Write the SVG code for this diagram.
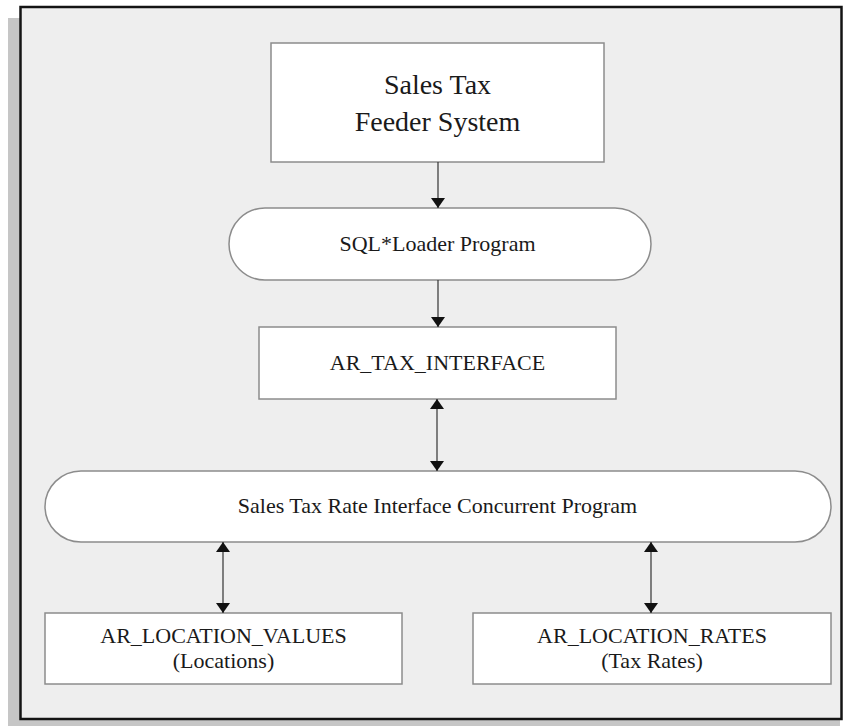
<svg xmlns="http://www.w3.org/2000/svg" width="850" height="726" viewBox="0 0 850 726">
<style>
.box{fill:#ffffff;stroke:#8c8c8c;stroke-width:1.5}
.t{font-family:"Liberation Serif","Times New Roman",serif;fill:#1a1a1a;text-anchor:middle}
.s{font-size:22px}
.c{stroke:#333;stroke-width:1.2;fill:none}
</style>
<defs>
<marker id="ah" viewBox="0 0 10 16" refX="10" refY="8" markerWidth="10" markerHeight="16" markerUnits="userSpaceOnUse" orient="auto-start-reverse">
<path d="M0,1 L10,8 L0,15 Z" fill="#111"/>
</marker>
</defs>
<rect x="8" y="18" width="832" height="708" fill="#c6c6c6"/>
<rect x="20.5" y="7" width="821" height="712" fill="#eeeeee" stroke="#141414" stroke-width="2.5"/>
<g id="feeder">
<rect class="box" x="271" y="43" width="333" height="119"/>
<text class="t" x="437.5" y="94" font-size="28">Sales Tax</text>
<text class="t" x="437.5" y="131" font-size="28">Feeder System</text>
</g>
<g id="sqlloader">
<rect class="box" x="229" y="208" width="422" height="72" rx="36" ry="36"/>
<text class="t s" x="437.5" y="251">SQL*Loader Program</text>
</g>
<g id="artaxinterface">
<rect class="box" x="259" y="327" width="357" height="72"/>
<text class="t s" x="437.5" y="370">AR_TAX_INTERFACE</text>
</g>
<g id="concurrent">
<rect class="box" x="45" y="471" width="786" height="71" rx="36" ry="36"/>
<text class="t s" x="437.5" y="513">Sales Tax Rate Interface Concurrent Program</text>
</g>
<g id="locvalues">
<rect class="box" x="45" y="613" width="357" height="71"/>
<text class="t s" x="223.5" y="643">AR_LOCATION_VALUES</text>
<text class="t s" x="223.5" y="668">(Locations)</text>
</g>
<g id="locrates">
<rect class="box" x="473" y="613" width="358" height="71"/>
<text class="t s" x="652" y="643">AR_LOCATION_RATES</text>
<text class="t s" x="652" y="668">(Tax Rates)</text>
</g>
<g id="connectors">
<line class="c" x1="438" y1="162" x2="438" y2="208" marker-end="url(#ah)"/>
<line class="c" x1="438" y1="280" x2="438" y2="327" marker-end="url(#ah)"/>
<line class="c" x1="437" y1="399" x2="437" y2="471" marker-start="url(#ah)" marker-end="url(#ah)"/>
<line class="c" x1="223" y1="542" x2="223" y2="613" marker-start="url(#ah)" marker-end="url(#ah)"/>
<line class="c" x1="651" y1="542" x2="651" y2="613" marker-start="url(#ah)" marker-end="url(#ah)"/>
</g>
</svg>
